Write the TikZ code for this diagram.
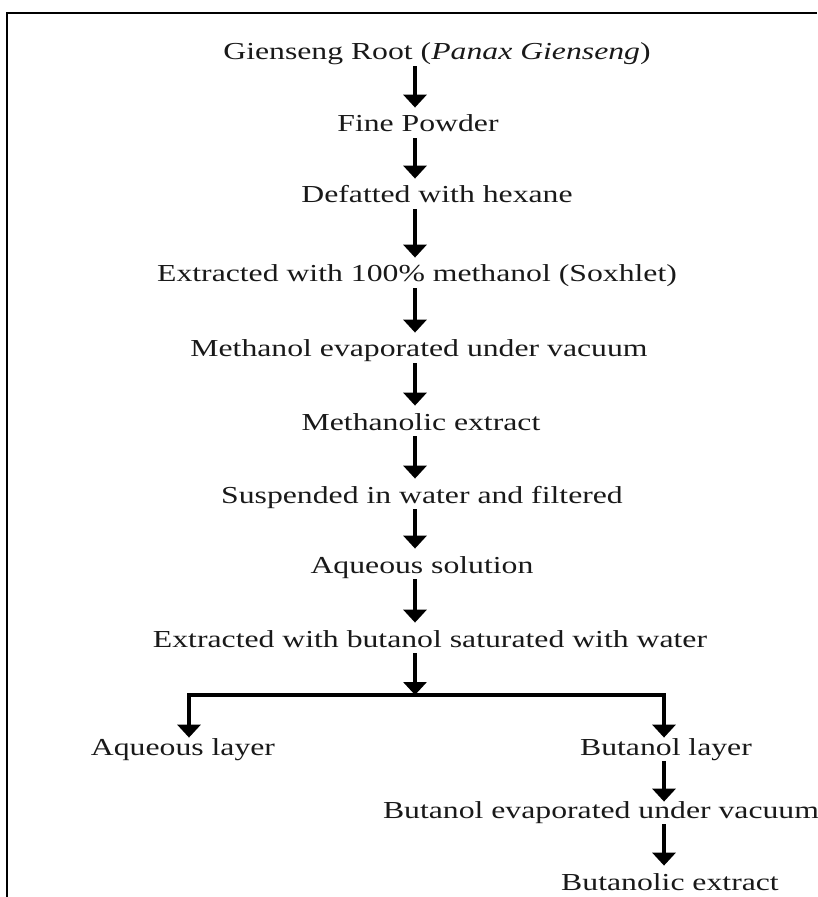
\documentclass[tikz,border=0pt]{standalone}
\usepackage{fontspec}
\setmainfont{Liberation Serif}[FakeStretch=1.3]
\usetikzlibrary{arrows.meta}

\begin{document}
\begin{tikzpicture}[x=0.5pt,y=-0.5pt]
        %
        % `stage' is used for every step of the extraction.
        % `flow' is used for the arrows, `frame' for the border.
        \tikzstyle{stage} = [anchor=base,inner sep=0pt,text height=12pt,text depth=3pt,font=\fontsize{12.2}{14}\selectfont,text=black!90]
        \tikzstyle{flow} = [line width=2.3pt,line join=miter,-{Triangle[width=11.5pt,length=6.5pt]}]
        \tikzstyle{frame} = [line width=1pt]
        %
        \useasboundingbox (0,0) rectangle (817,897);
        % Border
        \draw[frame] (7,897) -- (7,12.7) -- (817,12.7);
        %
        % Arrow columns
        \coordinate (spine) at (415,0);
        \coordinate (bspine) at (664,0);
        \coordinate (split) at (415,695);
        \coordinate (lcorner) at (189,695);
        %
        % Main column
        \node[stage] (root) at (437,60) {Gienseng Root (\textit{Panax Gienseng})};
        \node[stage] (powder) at (418,132) {Fine Powder};
        \node[stage] (defat) at (437,203) {Defatted with hexane};
        \node[stage] (soxhlet) at (417,282) {Extracted with 100\% methanol (Soxhlet)};
        \node[stage] (evap) at (419,357) {Methanol evaporated under vacuum};
        \node[stage] (mextract) at (421,430) {Methanolic extract};
        \node[stage] (suspend) at (422,503) {Suspended in water and filtered};
        \node[stage] (aqsol) at (422,573) {Aqueous solution};
        \node[stage] (butext) at (430,647) {Extracted with butanol saturated with water};
        %
        % Branches
        \node[stage,text height=8.5pt] (aqlayer) at (183,755) {Aqueous layer};
        \node[stage,text height=8.5pt] (bulayer) at (666,755) {Butanol layer};
        \node[stage,text height=8pt] (buevap) at (601,818) {Butanol evaporated under vacuum};
        \node[stage] (bextract) at (670,890) {Butanolic extract};
        %
        % Arrows
        \draw[flow] (root.south -| spine) -- (powder.north -| spine);
        \draw[flow] (powder.south -| spine) -- (defat.north -| spine);
        \draw[flow] (defat.south -| spine) -- (soxhlet.north -| spine);
        \draw[flow] (soxhlet.south -| spine) -- (evap.north -| spine);
        \draw[flow] (evap.south -| spine) -- (mextract.north -| spine);
        \draw[flow] (mextract.south -| spine) -- (suspend.north -| spine);
        \draw[flow] (suspend.south -| spine) -- (aqsol.north -| spine);
        \draw[flow] (aqsol.south -| spine) -- (butext.north -| spine);
        \draw[flow] (butext.south -| spine) -- (split);
        \draw[flow] (split) -| (aqlayer.north -| lcorner);
        \draw[flow] (split) -| (bulayer.north -| bspine);
        \draw[flow] (bulayer.south -| bspine) -- (buevap.north -| bspine);
        \draw[flow] (buevap.south -| bspine) -- (bextract.north -| bspine);
        %
\end{tikzpicture}
\end{document}
